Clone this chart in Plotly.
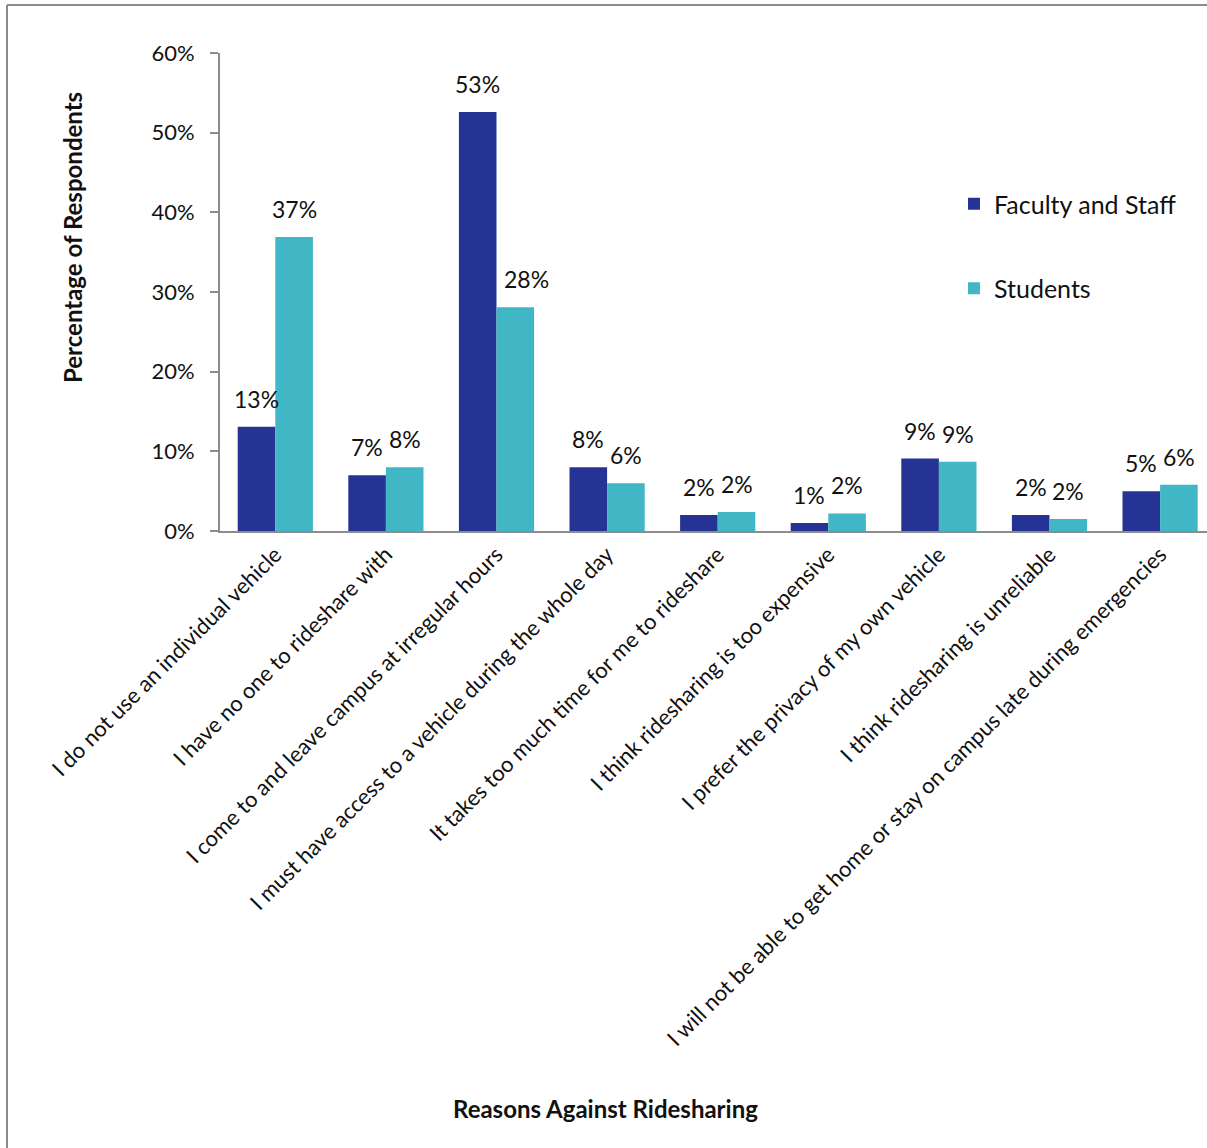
import plotly.graph_objects as go

categories = [
    "I do not use an individual vehicle",
    "I have no one to rideshare with",
    "I come to and leave campus at irregular hours",
    "I must have access to a vehicle during the whole day",
    "It takes too much time for me to rideshare",
    "I think ridesharing is too expensive",
    "I prefer the privacy of my own vehicle",
    "I think ridesharing is unreliable",
    "I will not be able to get home or stay on campus late during emergencies",
]
faculty = [13.1, 7.0, 52.6, 8.0, 2.0, 1.0, 9.1, 2.0, 5.0]
students = [36.9, 8.0, 28.1, 6.0, 2.4, 2.2, 8.7, 1.5, 5.8]
y_ticks = [0, 10, 20, 30, 40, 50, 60]
y_tick_text = ["0%", "10%", "20%", "30%", "40%", "50%", "60%"]

FONT = "Lato, 'Open Sans', sans-serif"
TXT = "#111111"
W, H = 1207, 1148
L, R, T, B = 220, 0, 53, 617
pw = W - L - R
ph = H - T - B
slot = 110.6          # pixels per category
bar_px = slot * 0.68 / 2

fig = go.Figure()
fig.add_trace(go.Bar(
    x=categories, y=faculty, name="Faculty and Staff",
    marker=dict(color="#253494", line=dict(width=0)),
    legendgroup="a",
))
fig.add_trace(go.Bar(
    x=categories, y=students, name="Students",
    marker=dict(color="#41b6c4", line=dict(width=0)),
    legendgroup="b",
))

annotations = []
for si, (series, shift) in enumerate(((faculty, -bar_px / 2), (students, bar_px / 2))):
    other = students if si == 0 else faculty
    for cat, v, o in zip(categories, series, other):
        extra = 0
        # label nudged sideways when the neighbouring bar is much taller (as in the source)
        if si == 1 and o > v + 10:
            extra = 11
        annotations.append(dict(
            x=cat, y=v, xref="x", yref="y", text=f"{v:.0f}%",
            showarrow=False, xshift=shift + extra, yshift=12, yanchor="bottom",
            font=dict(size=23, color=TXT),
        ))

annotations += [
    dict(text="<b>Percentage of Respondents</b>", xref="paper", yref="paper",
         x=(72 - L) / pw, y=1 - (238 - T) / ph, textangle=-90, showarrow=False,
         font=dict(size=24, color=TXT), xanchor="center", yanchor="middle"),
    dict(text="<b>Reasons Against Ridesharing</b>", xref="paper", yref="paper",
         x=(605 - L) / pw, y=1 - (1108 - T) / ph, showarrow=False,
         font=dict(size=24, color=TXT), xanchor="center", yanchor="middle"),
]

fig.update_layout(
    width=W, height=H,
    margin=dict(l=L, r=R, t=T, b=B, pad=0),
    paper_bgcolor="white", plot_bgcolor="white",
    font=dict(family=FONT, color=TXT),
    barmode="group", bargap=0.32, bargroupgap=0,
    showlegend=True,
    legend=dict(x=(954 - L) / pw, y=1 - (181 - T) / ph, xanchor="left", yanchor="top",
                font=dict(size=25, color=TXT), tracegroupgap=49, bgcolor="rgba(0,0,0,0)",
                itemwidth=30, traceorder="grouped"),
    xaxis=dict(
        range=[-0.5, -0.5 + pw / slot],
        tickangle=-45, tickfont=dict(size=22, color=TXT),
        showline=True, linecolor="#8c8c8c", linewidth=2,
        ticks="", showgrid=False, zeroline=False,
    ),
    yaxis=dict(
        range=[0, 60], tickvals=y_ticks, ticktext=y_tick_text,
        tickfont=dict(size=22, color=TXT),
        showline=True, linecolor="#8c8c8c", linewidth=2,
        ticks="outside", ticklen=8, tickcolor="#8c8c8c", tickwidth=2,
        showgrid=False, zeroline=False, ticklabelstandoff=11,
    ),
    annotations=annotations,
    shapes=[
        dict(type="line", xref="paper", yref="paper",
             x0=(7 - L) / pw, x1=(7 - L) / pw, y0=1 - (5 - T) / ph, y1=1 - (1148 - T) / ph,
             line=dict(color="#8c8c8c", width=2)),
        dict(type="line", xref="paper", yref="paper",
             x0=(7 - L) / pw, x1=1.0, y0=1 - (5 - T) / ph, y1=1 - (5 - T) / ph,
             line=dict(color="#8c8c8c", width=2)),
    ],
)

fig.write_html(
    "out.html",
    config={"displayModeBar": False},
    post_script="document.body.style.margin='0';document.body.style.overflow='hidden';",
)
